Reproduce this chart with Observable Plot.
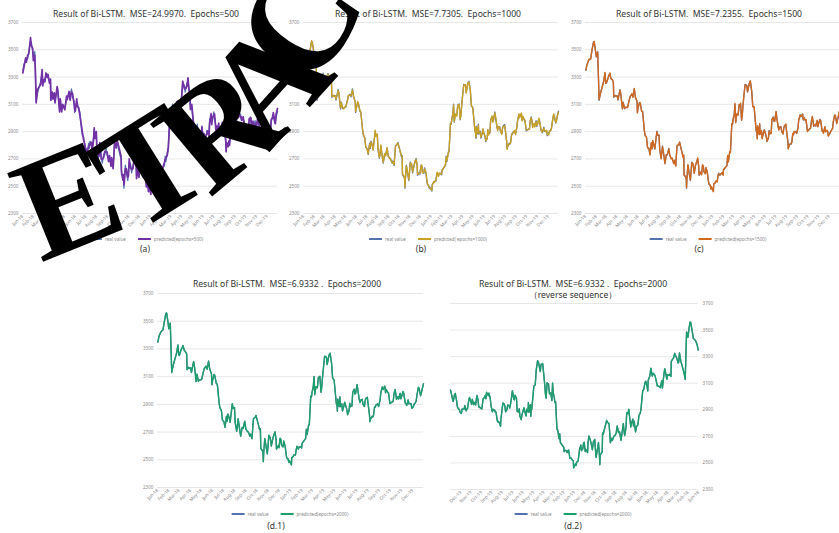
<!DOCTYPE html>
<html><head><meta charset="utf-8">
<script src="https://cdn.jsdelivr.net/npm/d3@7"></script>
<script src="https://cdn.jsdelivr.net/npm/@observablehq/plot@0.6"></script>
<style>
body{margin:0;background:#fff;}
#fig{position:relative;width:839px;height:533px;overflow:hidden;background:#fff;font-family:"Noto Sans","Open Sans",sans-serif;}
.ttl{position:absolute;font-size:8.6px;color:#333;white-space:pre;text-align:center;transform:translateX(-50%);line-height:11px;}
.cap{position:absolute;font-size:8.5px;color:#333;transform:translateX(-50%);line-height:10px;}
.leg{position:absolute;display:flex;align-items:center;gap:3px;font-size:4.6px;color:#888;transform:translateX(-50%);white-space:nowrap;line-height:6px;}
.sw{display:inline-block;width:13px;height:1.5px;}
.plotbox{position:absolute;}
#wm{position:absolute;left:0;top:0;pointer-events:none;}
</style></head>
<body><div id="fig"></div>
<script>
const dates = [
"2018-01-02","2018-01-05","2018-01-10","2018-01-12","2018-01-16","2018-01-19","2018-01-24","2018-01-26","2018-01-30","2018-02-01",
"2018-02-05","2018-02-07","2018-02-09","2018-02-13","2018-02-22","2018-02-26","2018-02-28","2018-03-02","2018-03-06","2018-03-09",
"2018-03-12","2018-03-15","2018-03-19","2018-03-22","2018-03-23","2018-03-27","2018-03-29","2018-04-02","2018-04-04","2018-04-10",
"2018-04-12","2018-04-17","2018-04-19","2018-04-23","2018-04-26","2018-05-02","2018-05-07","2018-05-09","2018-05-14","2018-05-17",
"2018-05-21","2018-05-24","2018-05-29","2018-05-30","2018-06-01","2018-06-05","2018-06-07","2018-06-11","2018-06-14","2018-06-19",
"2018-06-21","2018-06-25","2018-06-28","2018-07-02","2018-07-05","2018-07-09","2018-07-11","2018-07-13","2018-07-17","2018-07-19",
"2018-07-23","2018-07-25","2018-07-27","2018-07-31","2018-08-02","2018-08-06","2018-08-08","2018-08-10","2018-08-14","2018-08-17",
"2018-08-21","2018-08-24","2018-08-28","2018-08-31","2018-09-04","2018-09-07","2018-09-11","2018-09-13","2018-09-17","2018-09-19",
"2018-09-21","2018-09-26","2018-09-28","2018-10-08","2018-10-10","2018-10-11","2018-10-15","2018-10-17","2018-10-18","2018-10-19",
"2018-10-22","2018-10-25","2018-10-29","2018-10-31","2018-11-02","2018-11-06","2018-11-09","2018-11-13","2018-11-16","2018-11-19",
"2018-11-22","2018-11-23","2018-11-28","2018-11-30","2018-12-03","2018-12-05","2018-12-07","2018-12-11","2018-12-13","2018-12-17",
"2018-12-19","2018-12-21","2018-12-25","2018-12-27","2018-12-28","2019-01-03","2019-01-04","2019-01-08","2019-01-10","2019-01-14",
"2019-01-16","2019-01-18","2019-01-22","2019-01-24","2019-01-28","2019-01-31","2019-02-01","2019-02-11","2019-02-13","2019-02-15",
"2019-02-19","2019-02-21","2019-02-22","2019-02-25","2019-02-27","2019-03-01","2019-03-04","2019-03-06","2019-03-08","2019-03-11",
"2019-03-13","2019-03-15","2019-03-18","2019-03-20","2019-03-22","2019-03-25","2019-03-27","2019-03-29","2019-04-01","2019-04-04",
"2019-04-09","2019-04-11","2019-04-16","2019-04-19","2019-04-23","2019-04-25","2019-04-26","2019-04-30","2019-05-06","2019-05-08",
"2019-05-09","2019-05-10","2019-05-14","2019-05-16","2019-05-17","2019-05-21","2019-05-23","2019-05-27","2019-05-29","2019-05-31",
"2019-06-04","2019-06-06","2019-06-10","2019-06-12","2019-06-14","2019-06-18","2019-06-20","2019-06-24","2019-06-26","2019-06-28",
"2019-07-02","2019-07-04","2019-07-08","2019-07-10","2019-07-12","2019-07-16","2019-07-18","2019-07-22","2019-07-24","2019-07-26",
"2019-07-30","2019-08-01","2019-08-05","2019-08-06","2019-08-08","2019-08-12","2019-08-14","2019-08-16","2019-08-19","2019-08-21",
"2019-08-23","2019-08-27","2019-08-30","2019-09-03","2019-09-05","2019-09-09","2019-09-11","2019-09-16","2019-09-18","2019-09-20",
"2019-09-24","2019-09-26","2019-09-30","2019-10-09","2019-10-11","2019-10-14","2019-10-16","2019-10-18","2019-10-22","2019-10-24",
"2019-10-28","2019-10-30","2019-11-01","2019-11-05","2019-11-07","2019-11-11","2019-11-13","2019-11-15","2019-11-19","2019-11-21",
"2019-11-25","2019-11-27","2019-11-29","2019-12-03","2019-12-05","2019-12-09","2019-12-11","2019-12-13","2019-12-17","2019-12-19",
"2019-12-23","2019-12-25","2019-12-27","2019-12-31"];

const realValue = [
3349,3391,3421,3429,3436,3487,3559,3558,3488,3447,
3487,3309,3129,3184,3268,3329,3259,3254,3289,3307,
3326,3291,3279,3263,3152,3166,3160,3163,3131,3208,
3180,3066,3117,3068,3075,3081,3136,3159,3174,3155,
3213,3155,3120,3041,3075,3114,3109,3052,3044,2907,
2875,2859,2786,2775,2733,2815,2777,2831,2798,2772,
2859,2903,2873,2876,2768,2705,2744,2795,2723,2669,
2733,2729,2777,2725,2704,2702,2669,2686,2651,2730,
2797,2806,2821,2716,2725,2583,2568,2561,2486,2550,
2654,2603,2542,2602,2676,2659,2598,2654,2679,2703,
2645,2579,2601,2588,2654,2649,2605,2594,2634,2597,
2550,2516,2504,2483,2494,2464,2514,2526,2535,2535,
2570,2596,2579,2591,2596,2584,2618,2653,2721,2682,
2751,2751,2804,2961,2953,2994,3027,3102,2969,3026,
3026,3021,3096,3091,3104,2987,3022,3090,3170,3246,
3239,3189,3253,3270,3198,3124,3086,3078,2906,2893,
2850,2939,2883,2955,2882,2905,2852,2892,2914,2898,
2862,2827,2852,2909,2882,2890,2987,3008,2976,2979,
3044,3005,2933,2915,2930,2937,2901,2886,2923,2944,
2952,2908,2821,2777,2794,2814,2808,2823,2883,2880,
2897,2902,2886,2930,2985,3024,3008,3030,2985,3006,
2985,2985,2905,2924,2973,3008,2978,2938,2954,2940,
2980,2939,2958,2991,2978,2909,2905,2891,2933,2903,
2907,2903,2871,2884,2899,2914,2924,2967,3022,3017,
2962,2981,3005,3050];

const predicted500 = [
3330,3372,3440,3410,3462,3470,3590,3530,3512,3420,
3460,3340,3110,3210,3245,3355,3235,3280,3265,3330,
3300,3318,3255,3285,3130,3190,3138,3185,3110,3230,
3205,3045,3140,3045,3100,3060,3160,3135,3195,3130,
3190,3180,3095,3065,3050,3140,3085,3075,3020,2935,
2900,2835,2810,2750,2760,2790,2800,2805,2822,2748,
2835,2928,2850,2900,2745,2730,2720,2820,2700,2695,
2710,2755,2752,2750,2680,2725,2645,2710,2628,2705,
2820,2780,2845,2740,2700,2610,2545,2585,2510,2525,
2630,2628,2565,2578,2700,2635,2622,2630,2700,2680,
2670,2555,2625,2565,2678,2625,2630,2570,2658,2575,
2575,2495,2528,2460,2518,2440,2538,2505,2558,2512,
2545,2620,2555,2615,2572,2608,2595,2678,2698,2706,
2728,2775,2780,2935,2978,2970,3052,3080,2995,3002,
3050,2998,3120,3068,3128,3010,2998,3115,3148,3270,
3215,3212,3230,3295,3175,3148,3062,3100,2930,2870,
2875,2915,2905,2930,2905,2882,2876,2868,2938,2875,
2885,2805,2876,2885,2905,2866,2960,3032,2952,3002,
3020,3030,2910,2940,2906,2962,2878,2910,2900,2968,
2928,2932,2845,2752,2818,2790,2832,2800,2906,2856,
2920,2878,2910,2906,3008,3000,3032,3006,3010,2982,
3008,2962,2930,2900,2996,2985,3002,2915,2978,2918,
2956,2962,2935,3015,2955,2932,2882,2915,2910,2926,
2884,2926,2848,2908,2876,2938,2900,2990,2998,3040,
2985,2958,3030,3070];

const predicted1000 = [
3343,3385,3428,3422,3441,3480,3566,3550,3495,3440,
3478,3320,3140,3176,3275,3320,3266,3248,3295,3300,
3318,3298,3272,3270,3160,3158,3167,3156,3138,3200,
3188,3074,3110,3075,3068,3088,3129,3166,3167,3162,
3205,3162,3113,3048,3068,3121,3102,3059,3037,2915,
2882,2852,2793,2768,2740,2808,2784,2824,2805,2765,
2852,2910,2866,2883,2775,2712,2737,2802,2716,2676,
2740,2722,2784,2718,2711,2695,2676,2679,2658,2723,
2790,2813,2814,2723,2718,2590,2575,2554,2493,2543,
2647,2610,2549,2595,2669,2666,2605,2647,2686,2696,
2652,2586,2594,2595,2647,2656,2598,2601,2627,2604,
2557,2523,2497,2490,2487,2471,2507,2533,2528,2542,
2563,2603,2572,2598,2589,2591,2611,2660,2714,2689,
2744,2758,2797,2954,2960,2987,3034,3095,2976,3019,
3033,3014,3089,3098,3097,2994,3015,3083,3163,3239,
3246,3182,3260,3263,3205,3117,3093,3071,2913,2886,
2857,2932,2890,2948,2889,2898,2859,2885,2921,2891,
2869,2834,2845,2916,2875,2897,2980,3015,2969,2986,
3037,3012,2940,2908,2937,2930,2908,2879,2930,2937,
2945,2915,2828,2770,2801,2807,2815,2816,2876,2887,
2890,2909,2879,2937,2978,3031,3001,3037,2978,3013,
2992,2978,2912,2917,2980,3001,2985,2931,2961,2933,
2973,2946,2951,2998,2971,2916,2898,2898,2926,2910,
2900,2910,2878,2877,2906,2907,2931,2960,3029,3010,
2969,2974,3012,3043];

const predicted1500 = [
3352,3386,3425,3431,3432,3492,3553,3562,3484,3451,
3482,3314,3135,3180,3264,3334,3255,3258,3285,3311,
3330,3287,3283,3259,3156,3162,3164,3159,3135,3204,
3176,3070,3113,3072,3079,3077,3140,3155,3178,3151,
3217,3151,3124,3037,3079,3110,3113,3048,3048,2903,
2871,2863,2782,2779,2729,2819,2773,2835,2794,2776,
2863,2899,2877,2872,2772,2701,2748,2791,2727,2665,
2729,2733,2773,2729,2700,2706,2665,2690,2647,2734,
2801,2802,2825,2712,2729,2579,2572,2557,2490,2554,
2658,2599,2546,2606,2672,2663,2594,2658,2675,2707,
2641,2583,2605,2584,2658,2645,2609,2590,2638,2593,
2546,2520,2508,2479,2498,2460,2518,2522,2539,2531,
2574,2592,2583,2587,2600,2580,2622,2649,2725,2678,
2755,2747,2808,2957,2957,2998,3023,3106,2965,3030,
3022,3025,3100,3087,3108,2983,3026,3094,3174,3242,
3235,3193,3249,3274,3194,3128,3082,3082,2902,2897,
2846,2943,2879,2959,2878,2909,2848,2896,2910,2902,
2858,2831,2856,2905,2886,2886,2991,3004,2980,2975,
3048,3001,2937,2911,2934,2933,2905,2882,2927,2940,
2956,2904,2825,2773,2798,2810,2812,2819,2887,2876,
2901,2898,2890,2926,2989,3020,3012,3026,2989,3002,
2981,2989,2901,2928,2969,3012,2974,2942,2950,2944,
2984,2935,2962,2987,2982,2905,2909,2887,2937,2899,
2911,2899,2867,2888,2895,2918,2920,2971,3018,3021,
2958,2985,3001,3054];

const predicted2000 = [
3351,3389,3423,3427,3438,3485,3556,3560,3490,3445,
3485,3311,3131,3182,3266,3327,3261,3252,3291,3305,
3324,3293,3277,3265,3150,3168,3158,3165,3129,3210,
3182,3064,3119,3066,3077,3079,3138,3157,3176,3153,
3211,3157,3118,3043,3073,3116,3107,3054,3042,2909,
2877,2857,2788,2773,2735,2813,2779,2829,2800,2770,
2857,2905,2871,2878,2766,2707,2742,2797,2721,2671,
2735,2727,2779,2723,2706,2700,2671,2684,2653,2728,
2795,2808,2819,2718,2723,2585,2566,2563,2488,2548,
2652,2605,2544,2600,2678,2657,2600,2652,2681,2701,
2647,2577,2603,2586,2656,2647,2607,2592,2636,2595,
2552,2514,2506,2481,2496,2462,2516,2524,2537,2533,
2568,2598,2577,2593,2594,2586,2616,2655,2719,2684,
2749,2753,2802,2959,2955,2992,3029,3100,2971,3024,
3028,3019,3094,3093,3102,2989,3020,3088,3168,3248,
3241,3187,3255,3268,3200,3122,3088,3076,2908,2891,
2852,2937,2885,2953,2884,2903,2854,2890,2916,2896,
2864,2825,2854,2907,2884,2888,2985,3010,2974,2981,
3042,3007,2935,2913,2932,2935,2903,2884,2925,2942,
2950,2910,2823,2775,2796,2812,2810,2821,2881,2882,
2895,2904,2884,2932,2983,3026,3006,3032,2983,3008,
2987,2983,2907,2922,2975,3006,2980,2936,2956,2938,
2978,2941,2956,2993,2976,2911,2903,2893,2931,2905,
2905,2905,2873,2882,2901,2912,2926,2965,3024,3015,
2964,2979,3007,3048];

const yTicks = [2300,2500,2700,2900,3100,3300,3500,3700];
const xDomain = ["2018-01-01","2019-12-31"];
const realColor = "#5473AE";

const panels = [
  {title:["Result of Bi-LSTM.  MSE=24.9970.  Epochs=500"], pred:predicted500, color:"#7232A6", legend:"predicted(epochs=500)", caption:"(a)",
   box:{left:0,top:16,width:280,height:220}, m:{l:22,r:3,t:6,b:23}, titleX:146, titleY:9, legX:146, legY:236, capX:145, capY:244, sw:1.7},
  {title:["Result of Bi-LSTM.  MSE=7.7305.  Epochs=1000"], pred:predicted1000, color:"#C9A124", legend:"predicted( epochs=1000)", caption:"(b)",
   box:{left:280,top:16,width:280,height:220}, m:{l:23,r:2,t:6,b:23}, titleX:428, titleY:9, legX:428, legY:236, capX:421, capY:244, sw:1.4},
  {title:["Result of Bi-LSTM.  MSE=7.2355.  Epochs=1500"], pred:predicted1500, color:"#D0691F", legend:"predicted(epochs=1500)", caption:"(c)",
   box:{left:560,top:16,width:279,height:220}, m:{l:25,r:0,t:6,b:23}, titleX:709, titleY:9, legX:708, legY:236, capX:699, capY:244, sw:1.4},
  {title:["Result of Bi-LSTM.  MSE=6.9332 .  Epochs=2000"], pred:predicted2000, color:"#1E9E6B", legend:"predicted(epochs=2000)", caption:"(d.1)",
   box:{left:130,top:287,width:300,height:225}, m:{l:27,r:7,t:6,b:25}, titleX:287, titleY:279, legX:290, legY:511, capX:276, capY:521, sw:1.4},
  {title:["Result of Bi-LSTM.  MSE=6.9332 .  Epochs=2000","（reverse sequence）"], pred:predicted2000, color:"#1E9E6B", legend:"predicted(epochs=2000)", caption:"(d.2)",
   box:{left:430,top:297,width:300,height:215}, m:{l:20,r:32,t:6,b:23}, titleX:573, titleY:279, legX:573, legY:511, capX:573, capY:521, sw:1.4, reverse:true, right:true}
];

const fig = document.getElementById("fig");
const n = Math.min(dates.length, realValue.length);

for (const p of panels) {
  const rows = dates.slice(0, n).map((d, i) => ({date: new Date(d), real: realValue[i], pred: p.pred[i]}));
  const chart = Plot.plot({
    width: p.box.width, height: p.box.height,
    marginLeft: p.m.l, marginRight: p.m.r, marginTop: p.m.t, marginBottom: p.m.b,
    style: {fontSize: "4.6px", fontFamily: "'Noto Sans', sans-serif", color: "#8a8a8a", background: "transparent", overflow: "visible"},
    x: {type: "utc", domain: xDomain.map(d => new Date(d)), reverse: !!p.reverse},
    y: {domain: [2300, 3700]},
    marks: [
      Plot.gridY(yTicks, {stroke: "#dcdcdc", strokeOpacity: 1, strokeWidth: 0.7}),
      Plot.axisY(yTicks, {anchor: p.right ? "right" : "left", tickSize: 0, tickPadding: 4, tickFormat: d3.format("d"), label: null}),
      Plot.axisX({ticks: d3.utcMonth.every(1), tickFormat: d3.utcFormat("%b-%y"), tickRotate: -45, tickSize: 0, tickPadding: 2, label: null}),
      Plot.lineY(rows, {x: "date", y: "real", stroke: realColor, strokeWidth: 1.3}),
      Plot.lineY(rows, {x: "date", y: "pred", stroke: p.color, strokeWidth: p.sw})
    ]
  });
  const box = document.createElement("div");
  box.className = "plotbox";
  box.style.left = p.box.left + "px"; box.style.top = p.box.top + "px";
  box.appendChild(chart);
  fig.appendChild(box);

  const t = document.createElement("div");
  t.className = "ttl";
  t.style.left = p.titleX + "px"; t.style.top = p.titleY + "px";
  t.textContent = p.title.join("\n");
  fig.appendChild(t);

  const lg = document.createElement("div");
  lg.className = "leg";
  lg.style.left = p.legX + "px"; lg.style.top = p.legY + "px";
  lg.innerHTML = `<span class="sw" style="background:${realColor}"></span><span>real value</span><span style="width:6px"></span><span class="sw" style="background:${p.color}"></span><span>${p.legend}</span>`;
  fig.appendChild(lg);

  const c = document.createElement("div");
  c.className = "cap";
  c.style.left = p.capX + "px"; c.style.top = p.capY + "px";
  c.textContent = p.caption;
  fig.appendChild(c);
}

// RETRACTED stamp overlaid on the figure
const wmLetters = ["E","T","R","A","C"];
const wmPos = [[68,200,-22],[150,168,-32],[219,128,-40],[268,82,-48],[300,22,-56]];
const ns = "http://www.w3.org/2000/svg";
const wm = document.createElementNS(ns, "svg");
wm.setAttribute("id", "wm"); wm.setAttribute("width", 839); wm.setAttribute("height", 533);
wmLetters.forEach((ch, i) => {
  const [cx, cy, rot] = wmPos[i];
  const g = document.createElementNS(ns, "g");
  g.setAttribute("transform", `translate(${cx},${cy}) rotate(${rot})`);
  const tx = document.createElementNS(ns, "text");
  tx.setAttribute("text-anchor", "middle");
  tx.setAttribute("y", 48);
  tx.setAttribute("font-family", "'Liberation Serif', 'DejaVu Serif', serif");
  tx.setAttribute("font-weight", "bold");
  tx.setAttribute("font-size", 146);
  tx.setAttribute("fill", "#000");
  tx.textContent = ch;
  g.appendChild(tx);
  wm.appendChild(g);
});
fig.appendChild(wm);
</script>
</body></html>
